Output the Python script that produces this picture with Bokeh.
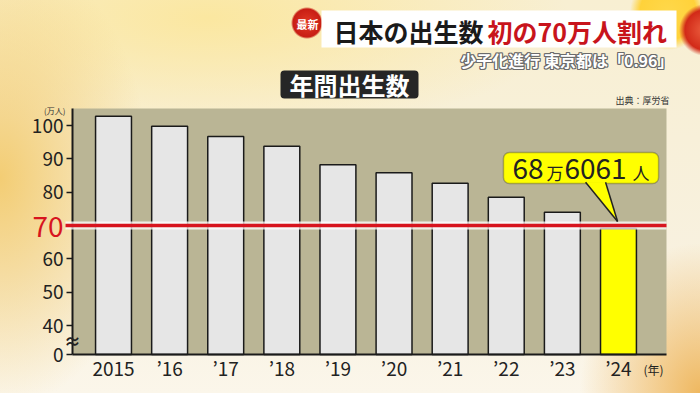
from bokeh.plotting import figure
from bokeh.models import (Range1d, FixedTicker, Label, BoxAnnotation,
                          CustomJSTickFormatter, ColumnDataSource)
from bokeh.embed import file_html
from bokeh.resources import INLINE

# ---------------- data (as drawn in the reference, 万人) ----------------
years = ["2015", "’16", "’17", "’18", "’19", "’20", "’21", "’22", "’23", "’24"]
births = [102.8, 99.8, 96.7, 93.8, 88.2, 85.8, 82.7, 78.5, 74.0, 69.1]
bar_colors = ["#e6e6e6"] * 9 + ["#ffff00"]
y_ticks = [40, 50, 60, 70, 80, 90, 100]
axis_zero = 31.3          # position of the broken-axis "0"
y_top = 105.1
threshold = 70
callout_parts = [("68", 28), ("万", 17), ("6061", 28), ("人", 17)]

JP = "Noto Sans CJK JP"

# ---------------- layout: window pixels <-> data ----------------
W, H = 700, 393
FL, FR, FT, FB = 72, 666, 108, 354          # chart panel in window pixels
X0, X1 = -0.731, 9.856                      # data x at panel left / right
KX = (FR - FL) / (X1 - X0)
KY = (FB - FT) / (y_top - axis_zero)


def dx(ix):
    return X0 + (ix - FL) / KX


def dy(iy):
    return axis_zero + (FB - iy) / KY


p = figure(width=W, height=H,
           x_range=Range1d(dx(0), dx(W)), y_range=Range1d(dy(H), dy(0)),
           output_backend="svg", toolbar_location=None,
           min_border_left=0, min_border_right=0, min_border_top=0, min_border_bottom=0)
p.title.visible = False
p.xgrid.visible = False
p.ygrid.visible = False
p.outline_line_color = None
p.background_fill_alpha = 0
p.border_fill_alpha = 0
p.styles = {
    "background": ", ".join([
        "radial-gradient(circle 16px at 307px 23px, #e23a26 0, #c81e14 14px, rgba(200,30,20,0) 16px)",
        "radial-gradient(circle 26px at 705px 30px, #ec6040 0, #d22a18 20px, rgba(210,42,24,0) 26px)",
        "radial-gradient(circle 38px at 668px 12px, #ffd84a 0, #ffd23a 28px, rgba(255,215,70,0) 38px)",
        "radial-gradient(ellipse 150px 230px at 0px 178px, #f3cd74 0%, rgba(245,215,140,0) 100%)",
        "radial-gradient(ellipse 360px 120px at 208px 18px, #fbe7a0 0%, rgba(250,235,170,0) 100%)",
        "radial-gradient(ellipse 120px 150px at 700px 393px, #efb860 0%, rgba(240,190,110,0) 100%)",
        "linear-gradient(180deg, #f8efd2 0%, #f8f1e0 70%, #fbf6ea 100%)",
    ])
}

# chart panel
p.quad(left=X0, right=X1, bottom=axis_zero, top=y_top, fill_color="#bab595", line_color=None)

# bars
src = ColumnDataSource(dict(x=list(range(len(years))), top=births, color=bar_colors))
p.vbar(x="x", top="top", bottom=axis_zero, width=0.64, source=src, fill_color="color",
       line_color="#1a1a1a", line_width=1.5)

# ---------------- axes (fixed at the panel edges) ----------------
xa = p.xaxis[0]
xa.fixed_location = axis_zero
xa.bounds = (X0, X1)
xa.ticker = FixedTicker(ticks=list(range(len(years))))
xa.major_label_overrides = {i: y for i, y in enumerate(years)}
xa.major_tick_line_color = None
xa.minor_tick_line_color = None
xa.axis_line_width = 2
xa.axis_line_color = "#1a1a1a"
xa.major_label_standoff = -7
xa.major_label_text_font = JP
xa.major_label_text_font_size = "19px"
xa.major_label_text_color = "#222222"

ya = p.yaxis[0]
ya.fixed_location = X0
ya.bounds = (axis_zero, y_top)
ya.ticker = FixedTicker(ticks=[axis_zero] + y_ticks)
ya.formatter = CustomJSTickFormatter(
    args=dict(z=axis_zero, t=threshold),
    code="if (Math.abs(tick - z) < 0.01) return '0'; if (tick == t) return ''; return tick.toFixed(0);")
ya.axis_line_width = 2
ya.axis_line_color = "#1a1a1a"
ya.major_tick_out = 6
ya.major_tick_in = 0
ya.major_tick_line_width = 1.5
ya.major_tick_line_color = "#1a1a1a"
ya.minor_tick_line_color = None
ya.major_label_standoff = 3
ya.major_label_text_font = JP
ya.major_label_text_font_size = "19px"
ya.major_label_text_color = "#222222"

# ---------------- 70 line ----------------
g1 = p.line([dx(65), X1], [threshold, threshold], line_color="white", line_alpha=0.75, line_width=8)
g2 = p.line([dx(65), X1], [threshold, threshold], line_color="#d7141e", line_width=3.5)
g1.level = "annotation"
g2.level = "annotation"


def lab(ix, iy, text, size, color, align="left", bold=False, xo=0, yo=0, baseline="middle"):
    p.add_layout(Label(x=dx(ix), y=dy(iy), text=text, text_font=JP,
                       text_font_size=f"{size}px", text_color=color, text_align=align,
                       text_baseline=baseline, text_font_style="bold" if bold else "normal",
                       x_offset=xo, y_offset=-yo))


lab(63, 226, str(threshold), 28, "#d7141e", align="right")
lab(72, 340, "≈", 17, "#222222", align="center", bold=True)
lab(65, 110, "(万人)", 8, "#333333", align="right")
lab(643, 369, "(年)", 12, "#222222")

# ---------------- callout ----------------
last = len(births) - 1
top_last = births[-1]
box_b, box_t = top_last + 13.5, top_last + 22.8
p.add_layout(BoxAnnotation(left=last - 2.05, right=last + 0.715, bottom=box_b, top=box_t,
                           fill_color="#ffff00", fill_alpha=1, line_color="#222222",
                           line_width=1.5, border_radius=6))
ptr_x = [last - 0.586, last - 0.23, last - 0.016]
ptr_y = [box_b + 0.35, box_b + 0.35, top_last + 2.1]
r = p.patch(ptr_x, ptr_y, fill_color="#ffff00", line_color=None)
r.level = "overlay"
for i in (0, 1):
    rl = p.line([ptr_x[i], ptr_x[2]], [ptr_y[i], ptr_y[2]], line_color="#222222", line_width=1.5)
    rl.level = "overlay"

cx = [512, 546, 564, 632]
cy = [168, 172, 168, 172]
for (t, s), x, yy in zip(callout_parts, cx, cy):
    lab(x, yy, t, s, "#222222")

# ---------------- header ----------------
p.add_layout(BoxAnnotation(left=dx(321), right=dx(676), top=dy(10), bottom=dy(47),
                           fill_color="#ffffff", fill_alpha=1, line_color=None))
lab(307, 23, "最新", 11, "white", align="center", bold=True)
lab(333, 30, "日本の出生数", 25, "#1a1a1a", bold=True)
lab(487, 30, "初の70万人割れ", 25, "#c8141c", bold=True)

sub = "少子化進行 東京都は「0.96」"
for ox, oy in [(-1, -1), (0, -1), (1, -1), (-1, 0), (1, 0), (-1, 1), (0, 1), (1, 1)]:
    lab(673, 59, sub, 16, "#6b6b6b", align="right", bold=True, xo=ox, yo=oy)
lab(673, 59, sub, 16, "white", align="right", bold=True)

p.add_layout(BoxAnnotation(left=dx(280), right=dx(418), top=dy(70), bottom=dy(98),
                           fill_color="#262626", fill_alpha=1, line_color=None, border_radius=4))
lab(349, 84, "年間出生数", 24, "white", align="center", bold=True)
lab(669, 100, "出典：厚労省", 9, "#333333", align="right")

open("out.html", "w").write(file_html(p, INLINE))
